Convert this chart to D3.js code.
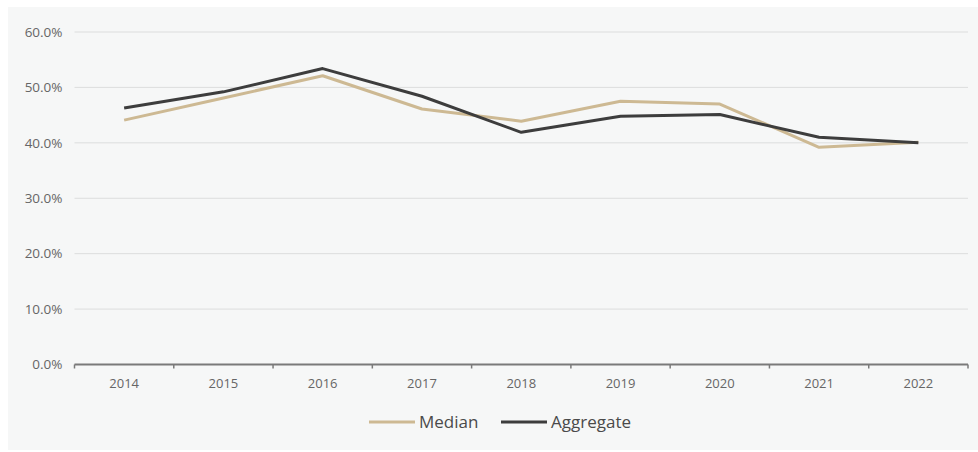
<!DOCTYPE html>
<html>
<head>
<meta charset="utf-8">
<script src="https://cdn.jsdelivr.net/npm/d3@7"></script>
<style>
  body { margin: 0; background: #fff; }
  svg { display: block; font-family: "Open Sans", "Noto Sans", sans-serif; }
</style>
</head>
<body>
<div id="chart"></div>
<script>
// data
const years = ["2014", "2015", "2016", "2017", "2018", "2019", "2020", "2021", "2022"];
const median = [44.1, 48.1, 52.1, 46.1, 43.9, 47.5, 47.0, 39.2, 40.1];
const aggregate = [46.3, 49.2, 53.4, 48.4, 41.9, 44.8, 45.1, 41.0, 40.0];
const yTicks = [0, 10, 20, 30, 40, 50, 60];

const series = [
  { name: "Median", values: median, color: "#cdb993" },
  { name: "Aggregate", values: aggregate, color: "#3d3d3d" }
];

const width = 978, height = 452;
const margins = { top: 32, bottom: 87, left: 74.5, right: 10 };

const svg = d3.select("#chart")
  .append("svg")
  .attr("width", width)
  .attr("height", height);

// panel
svg.append("rect")
  .attr("x", 8).attr("y", 7)
  .attr("width", width - 8).attr("height", height - 9)
  .attr("fill", "#f6f7f7");

const xScale = d3.scaleBand()
  .domain(years)
  .range([margins.left, width - margins.right]);

const yScale = d3.scaleLinear()
  .domain([0, 60])
  .range([height - margins.bottom - 0.5, margins.top]);

// gridlines
svg.append("g")
  .selectAll("line")
  .data(yTicks.filter(d => d > 0))
  .join("line")
  .attr("x1", margins.left)
  .attr("x2", width - margins.right)
  .attr("y1", d => yScale(d))
  .attr("y2", d => yScale(d))
  .attr("stroke", "#dcdddd")
  .attr("stroke-width", 1);

// y-axis labels
const yAxis = d3.axisLeft(yScale)
  .tickValues(yTicks)
  .tickFormat(d => d.toFixed(1) + "%")
  .tickSize(0)
  .tickPadding(12);

svg.append("g")
  .attr("class", "axis y-axis")
  .attr("transform", `translate(${margins.left},0)`)
  .call(yAxis)
  .call(g => g.select(".domain").remove())
  .call(g => g.selectAll("text")
    .attr("fill", "#666")
    .attr("font-size", 13.5)
    .attr("font-family", "'Open Sans', 'Noto Sans', sans-serif"));

// x-axis: ticks sit between the bands
const xAxisG = svg.append("g")
  .attr("class", "axis x-axis")
  .attr("transform", `translate(0,${yScale(0)})`);

xAxisG.append("line")
  .attr("x1", xScale.range()[0])
  .attr("x2", xScale.range()[1])
  .attr("stroke", "#7a7a7a")
  .attr("stroke-width", 1.8);

const bounds = years.map(d => xScale(d)).concat([xScale.range()[1]]);
xAxisG.selectAll(".tick-mark")
  .data(bounds)
  .join("line")
  .attr("class", "tick-mark")
  .attr("x1", d => d).attr("x2", d => d)
  .attr("y1", 0).attr("y2", 4)
  .attr("stroke", "#7a7a7a")
  .attr("stroke-width", 1.5);

xAxisG.selectAll(".tick-label")
  .data(years)
  .join("text")
  .attr("class", "tick-label")
  .attr("x", d => xScale(d) + xScale.bandwidth() / 2)
  .attr("y", 23)
  .attr("text-anchor", "middle")
  .attr("fill", "#666")
  .attr("font-size", 13)
  .text(d => d);

// lines
const line = d3.line()
  .x((d, i) => xScale(years[i]) + xScale.bandwidth() / 2)
  .y(d => yScale(d));

svg.append("g")
  .attr("fill", "none")
  .attr("stroke-width", 3)
  .attr("stroke-linejoin", "round")
  .selectAll("path")
  .data(series)
  .join("path")
  .attr("stroke", d => d.color)
  .attr("d", d => line(d.values));

// legend
const legendItems = [
  { name: "Median", color: "#cdb993", x: 369 },
  { name: "Aggregate", color: "#3d3d3d", x: 501 }
];
const legend = svg.append("g").attr("transform", "translate(0,422)");
legend.selectAll("line")
  .data(legendItems)
  .join("line")
  .attr("x1", d => d.x)
  .attr("x2", d => d.x + 46)
  .attr("stroke", d => d.color)
  .attr("stroke-width", 3);
legend.selectAll("text")
  .data(legendItems)
  .join("text")
  .attr("x", d => d.x + 50)
  .attr("y", 6)
  .attr("fill", "#4a4a4a")
  .attr("font-size", 17)
  .text(d => d.name);
</script>
</body>
</html>
